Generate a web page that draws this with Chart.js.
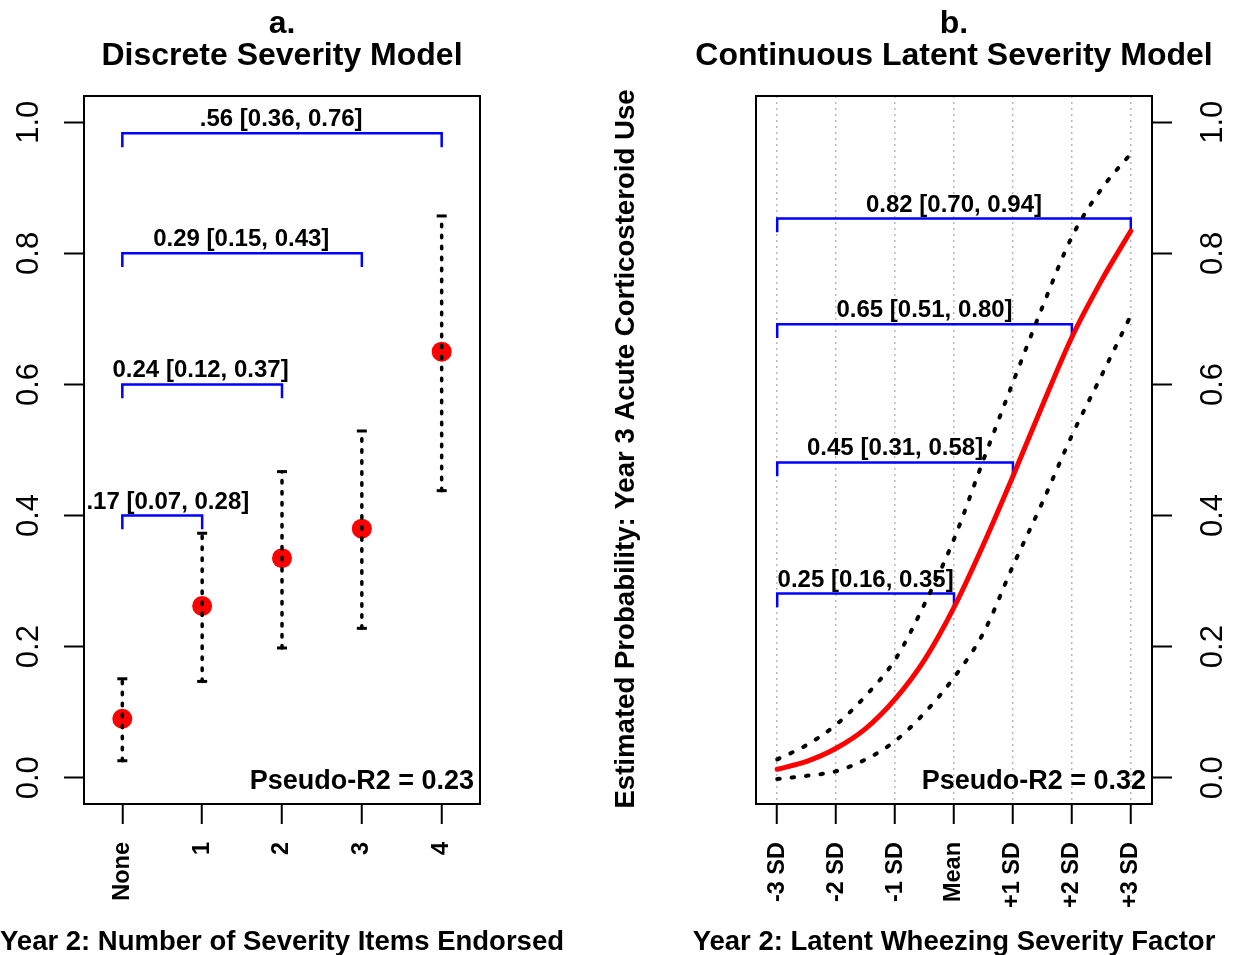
<!DOCTYPE html>
<html>
<head>
<meta charset="utf-8">
<script src="https://cdn.jsdelivr.net/npm/chart.js@4.4.1/dist/chart.umd.min.js"></script>
<style>
body { margin: 0; background: #fff; }
#a { position: absolute; left: 0; top: 0; }
#b { position: absolute; left: 600px; top: 0; }
</style>
</head>
<body>
<canvas id="a" width="600" height="955"></canvas>
<canvas id="b" width="636" height="955"></canvas>
<script>
// panel a - discrete model
var itemLabels = ['None', '1', '2', '3', '4'];
var itemX = [0, 1, 2, 3, 4];
var probA = [0.09, 0.262, 0.335, 0.38, 0.65];
var lowA = [0.026, 0.147, 0.198, 0.228, 0.438];
var highA = [0.151, 0.373, 0.467, 0.529, 0.857];
var bracketToA = [1, 2, 3, 4];
var bracketLevelA = [0.40, 0.60, 0.80, 0.983];
var bracketTextA = ['.17 [0.07, 0.28]', '0.24 [0.12, 0.37]', '0.29 [0.15, 0.43]', '.56 [0.36, 0.76]'];
var bracketTextXA = [0.57, 0.98, 1.49, 1.99];

// panel b - continuous latent model
var sdLabels = ['-3 SD', '-2 SD', '-1 SD', 'Mean', '+1 SD', '+2 SD', '+3 SD'];
var sdTicks = [-3, -2, -1, 0, 1, 2, 3];
var sdX = [-3, -2.5, -2, -1.5, -1, -0.5, 0, 0.5, 1, 1.5, 2, 2.5, 3];
var probB = [0.013, 0.025, 0.045, 0.075, 0.12, 0.18, 0.26, 0.356, 0.46, 0.568, 0.672, 0.758, 0.834];
var upperB = [0.028, 0.05, 0.081, 0.125, 0.18, 0.265, 0.364, 0.485, 0.603, 0.718, 0.825, 0.898, 0.952];
var lowerB = [-0.002, 0.003, 0.01, 0.028, 0.056, 0.099, 0.153, 0.221, 0.323, 0.42, 0.522, 0.613, 0.705];
var bracketToB = [0, 1, 2, 3];
var bracketLevelB = [0.281, 0.481, 0.692, 0.853];
var bracketTextB = ['0.25 [0.16, 0.35]', '0.45 [0.31, 0.58]', '0.65 [0.51, 0.80]', '0.82 [0.70, 0.94]'];
var bracketTextXB = [-1.5, -1.0, -0.5, 0.0];

var yTicks = [0, 0.2, 0.4, 0.6, 0.8, 1.0];
var yTickLabels = ['0.0', '0.2', '0.4', '0.6', '0.8', '1.0'];

var FONT = '"Liberation Sans", Arial, sans-serif';
var DROP = 0.021;

function drawText(ctx, text, x, y, font, align, angle) {
	ctx.save();
	ctx.translate(x, y);
	if (angle) ctx.rotate(angle);
	ctx.font = font + ' ' + FONT;
	ctx.fillStyle = '#000';
	ctx.textAlign = align;
	ctx.textBaseline = 'alphabetic';
	ctx.fillText(text, 0, 0);
	ctx.restore();
}

function bracket(x0, x1, level) {
	return {
		data: [{x: x0, y: level - DROP}, {x: x0, y: level}, {x: x1, y: level}, {x: x1, y: level - DROP}],
		showLine: true, borderColor: '#0000FF', borderWidth: 2.5, pointRadius: 0, order: 2
	};
}

function panelPlugin(p) {
	return {
		id: 'panel',
		afterDraw: function (chart) {
			var ctx = chart.ctx, a = chart.chartArea;
			var xs = chart.scales.x, ys = chart.scales.y;
			var cx = (a.left + a.right) / 2;
			ctx.save();
			ctx.strokeStyle = '#000';
			ctx.lineWidth = 2;
			ctx.strokeRect(a.left, a.top, a.right - a.left, a.bottom - a.top);
			ctx.restore();
			yTicks.forEach(function (v, i) {
				drawText(ctx, yTickLabels[i], p.yLabelX, ys.getPixelForValue(v), '31px', 'center', -Math.PI / 2);
			});
			drawText(ctx, p.letter, cx, 33, 'bold 32px', 'center');
			drawText(ctx, p.title, cx, 65, 'bold 32px', 'center');
			drawText(ctx, p.xTitle, cx, 950, 'bold 27.5px', 'center');
			drawText(ctx, p.r2, a.right - 6, 789, 'bold 27px', 'right');
			if (p.yTitle) drawText(ctx, p.yTitle, p.yTitleX, (a.top + a.bottom) / 2 - 1, 'bold 27.6px', 'center', -Math.PI / 2);
			p.texts.forEach(function (t, i) {
				drawText(ctx, t, xs.getPixelForValue(p.textX[i]), ys.getPixelForValue(p.levels[i]) - 7, 'bold 24px', 'center');
			});
		}
	};
}

function scales(xMin, xMax, xTickVals, xTickLabels, yPos, xGrid) {
	return {
		x: {
			type: 'linear', min: xMin, max: xMax,
			afterBuildTicks: function (s) { s.ticks = xTickVals.map(function (v) { return {value: v}; }); },
			afterFit: function (s) { s.height = 151; },
			border: {display: false, dash: [2, 4]},
			grid: {
				drawOnChartArea: xGrid, color: '#b8b8b8', lineWidth: 1.5,
				tickLength: 20, tickColor: '#000', tickWidth: 2, tickBorderDash: []
			},
			ticks: {
				autoSkip: false, minRotation: 90, maxRotation: 90, padding: 18, color: '#000',
				font: {family: FONT, size: 23.5, weight: 'bold'},
				callback: function (v, i) { return xTickLabels[i]; }
			}
		},
		y: {
			type: 'linear', position: yPos, min: -0.04, max: 1.04,
			afterBuildTicks: function (s) { s.ticks = yTicks.map(function (v) { return {value: v}; }); },
			afterFit: function (s) { s.width = 84; },
			border: {display: false},
			grid: {drawOnChartArea: false, tickLength: 20, tickColor: '#000', tickWidth: 2},
			ticks: {display: false}
		}
	};
}

var baseOpts = {
	responsive: false,
	animation: false,
	plugins: {legend: {display: false}, tooltip: {enabled: false}}
};

// ---- panel a
var datasetsA = [];
itemX.forEach(function (x, i) {
	datasetsA.push({
		data: [{x: x, y: lowA[i]}, {x: x, y: highA[i]}],
		showLine: true, borderColor: '#000', borderWidth: 3.5, borderDash: [2.5, 8.5], borderCapStyle: 'round',
		pointStyle: 'line', pointRadius: 5, pointBorderWidth: 3, pointBorderColor: '#000', order: 0
	});
});
datasetsA.push({
	data: itemX.map(function (x, i) { return {x: x, y: probA[i]}; }),
	pointRadius: 10, pointBackgroundColor: '#FF0000', pointBorderWidth: 0, order: 1
});
bracketToA.forEach(function (to, i) { datasetsA.push(bracket(0, to, bracketLevelA[i])); });

new Chart(document.getElementById('a').getContext('2d'), {
	type: 'scatter',
	data: {datasets: datasetsA},
	options: Object.assign({}, baseOpts, {
		layout: {padding: {top: 96, right: 120, left: 0, bottom: 0}},
		scales: scales(-0.48, 4.48, itemX, itemLabels, 'left', false)
	}),
	plugins: [panelPlugin({
		letter: 'a.', title: 'Discrete Severity Model',
		xTitle: 'Year 2: Number of Severity Items Endorsed', r2: 'Pseudo-R2 = 0.23',
		yLabelX: 38, texts: bracketTextA, textX: bracketTextXA, levels: bracketLevelA
	})]
});

// ---- panel b
function curve(vals, color, width, dash, order) {
	return {
		data: sdX.map(function (x, i) { return {x: x, y: vals[i]}; }),
		showLine: true, borderColor: color, borderWidth: width, borderDash: dash, borderCapStyle: 'round',
		cubicInterpolationMode: 'monotone', pointRadius: 0, order: order
	};
}
var datasetsB = [
	curve(probB, '#FF0000', 5, [], 1),
	curve(upperB, '#000', 4, [2.5, 12], 2),
	curve(lowerB, '#000', 4, [2.5, 12], 2)
];
bracketToB.forEach(function (to, i) { datasetsB.push(bracket(-3, to, bracketLevelB[i])); });

new Chart(document.getElementById('b').getContext('2d'), {
	type: 'scatter',
	data: {datasets: datasetsB},
	options: Object.assign({}, baseOpts, {
		layout: {padding: {top: 96, right: 0, left: 156, bottom: 0}},
		scales: scales(-3.36, 3.36, sdTicks, sdLabels, 'right', true)
	}),
	plugins: [panelPlugin({
		letter: 'b.', title: 'Continuous Latent Severity Model',
		xTitle: 'Year 2: Latent Wheezing Severity Factor', r2: 'Pseudo-R2 = 0.32',
		yLabelX: 622, yTitle: 'Estimated Probability: Year 3 Acute Corticosteroid Use', yTitleX: 34,
		texts: bracketTextB, textX: bracketTextXB, levels: bracketLevelB
	})]
});
</script>
</body>
</html>
